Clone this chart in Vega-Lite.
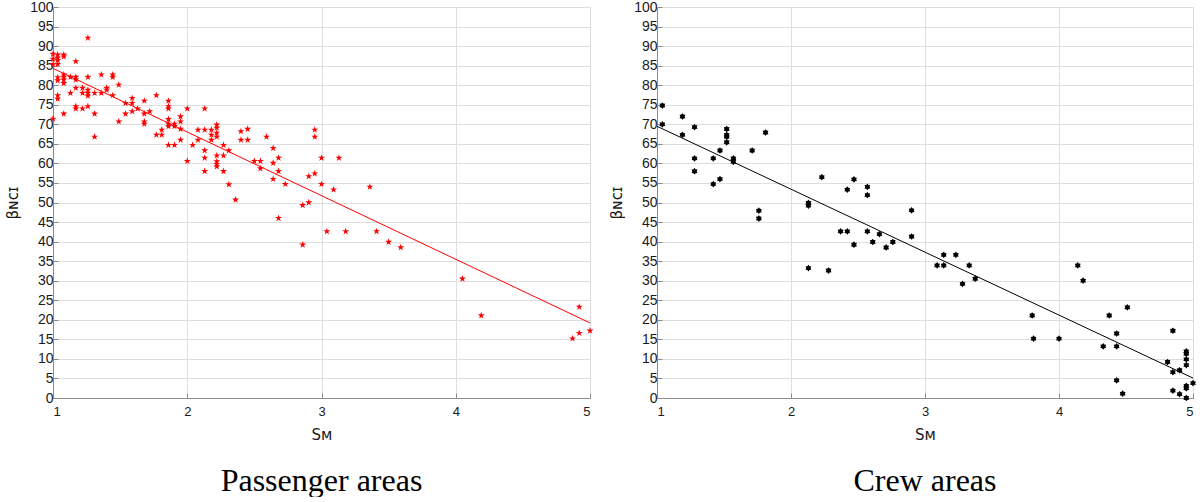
{
  "$schema": "https://vega.github.io/schema/vega-lite/v6.json",
  "padding": {"left": 5, "top": 0, "right": 0, "bottom": 0},
  "spacing": 15,
  "datasets": {
    "passenger": [
      {"sm": 1.0, "b": 71.4}, {"sm": 1.0, "b": 88}, {"sm": 1.0, "b": 86.7}, {"sm": 1.0, "b": 85.3},
      {"sm": 1.035, "b": 87.8}, {"sm": 1.035, "b": 87}, {"sm": 1.035, "b": 86.4}, {"sm": 1.035, "b": 85.4}, {"sm": 1.035, "b": 82}, {"sm": 1.035, "b": 81.2}, {"sm": 1.035, "b": 77.4}, {"sm": 1.035, "b": 76.5},
      {"sm": 1.08, "b": 87.8}, {"sm": 1.08, "b": 87.3}, {"sm": 1.08, "b": 82.7}, {"sm": 1.08, "b": 82.1}, {"sm": 1.08, "b": 81.4}, {"sm": 1.08, "b": 80.5}, {"sm": 1.08, "b": 72.7},
      {"sm": 1.13, "b": 82.1}, {"sm": 1.13, "b": 78},
      {"sm": 1.17, "b": 86.1}, {"sm": 1.17, "b": 82.1}, {"sm": 1.17, "b": 81.4}, {"sm": 1.17, "b": 79.3}, {"sm": 1.17, "b": 74.6}, {"sm": 1.17, "b": 74},
      {"sm": 1.22, "b": 79.3}, {"sm": 1.22, "b": 78}, {"sm": 1.22, "b": 74},
      {"sm": 1.26, "b": 92.1}, {"sm": 1.26, "b": 82.1}, {"sm": 1.26, "b": 78.8}, {"sm": 1.26, "b": 78}, {"sm": 1.26, "b": 77.3}, {"sm": 1.26, "b": 74.6},
      {"sm": 1.31, "b": 78}, {"sm": 1.31, "b": 72.7}, {"sm": 1.31, "b": 66.8},
      {"sm": 1.36, "b": 82.7}, {"sm": 1.36, "b": 78},
      {"sm": 1.40, "b": 79.3}, {"sm": 1.40, "b": 78.8},
      {"sm": 1.445, "b": 82.7}, {"sm": 1.445, "b": 82.1}, {"sm": 1.445, "b": 77.4},
      {"sm": 1.49, "b": 80.1}, {"sm": 1.49, "b": 70.7},
      {"sm": 1.54, "b": 75.4}, {"sm": 1.54, "b": 72.7},
      {"sm": 1.59, "b": 76.7}, {"sm": 1.59, "b": 75.4}, {"sm": 1.59, "b": 73.3},
      {"sm": 1.63, "b": 74},
      {"sm": 1.68, "b": 76}, {"sm": 1.68, "b": 72.7}, {"sm": 1.68, "b": 70.7}, {"sm": 1.68, "b": 70.1},
      {"sm": 1.72, "b": 73.3},
      {"sm": 1.77, "b": 77.4}, {"sm": 1.77, "b": 67.3},
      {"sm": 1.81, "b": 68.6}, {"sm": 1.81, "b": 67.3},
      {"sm": 1.86, "b": 76}, {"sm": 1.86, "b": 74.6}, {"sm": 1.86, "b": 74}, {"sm": 1.86, "b": 71.3}, {"sm": 1.86, "b": 70.1}, {"sm": 1.86, "b": 69.5}, {"sm": 1.86, "b": 64.7},
      {"sm": 1.905, "b": 70.1}, {"sm": 1.905, "b": 69.5}, {"sm": 1.905, "b": 64.7},
      {"sm": 1.95, "b": 72}, {"sm": 1.95, "b": 70.7}, {"sm": 1.95, "b": 68.8}, {"sm": 1.95, "b": 66},
      {"sm": 2.0, "b": 74}, {"sm": 2.0, "b": 60.6},
      {"sm": 2.04, "b": 64.7},
      {"sm": 2.08, "b": 68.6}, {"sm": 2.08, "b": 66},
      {"sm": 2.13, "b": 74}, {"sm": 2.13, "b": 68.6}, {"sm": 2.13, "b": 63.3}, {"sm": 2.13, "b": 61.4}, {"sm": 2.13, "b": 58},
      {"sm": 2.18, "b": 68.6}, {"sm": 2.18, "b": 67.3}, {"sm": 2.18, "b": 66},
      {"sm": 2.22, "b": 69.9}, {"sm": 2.22, "b": 69.1}, {"sm": 2.22, "b": 67.8}, {"sm": 2.22, "b": 66.8}, {"sm": 2.22, "b": 62}, {"sm": 2.22, "b": 60.5}, {"sm": 2.22, "b": 59.8}, {"sm": 2.22, "b": 59.2},
      {"sm": 2.27, "b": 64.7}, {"sm": 2.27, "b": 62}, {"sm": 2.27, "b": 58},
      {"sm": 2.31, "b": 63.3}, {"sm": 2.31, "b": 54.6},
      {"sm": 2.36, "b": 50.7},
      {"sm": 2.40, "b": 68.2}, {"sm": 2.40, "b": 66},
      {"sm": 2.45, "b": 68.8}, {"sm": 2.45, "b": 66},
      {"sm": 2.50, "b": 60.6},
      {"sm": 2.545, "b": 60.6}, {"sm": 2.545, "b": 58.7},
      {"sm": 2.59, "b": 66.8},
      {"sm": 2.64, "b": 63.9}, {"sm": 2.64, "b": 60.1}, {"sm": 2.64, "b": 56},
      {"sm": 2.68, "b": 61.4}, {"sm": 2.68, "b": 58}, {"sm": 2.68, "b": 46},
      {"sm": 2.73, "b": 54.7},
      {"sm": 2.86, "b": 49.3}, {"sm": 2.86, "b": 39.2},
      {"sm": 2.905, "b": 56.7}, {"sm": 2.905, "b": 50},
      {"sm": 2.95, "b": 68.6}, {"sm": 2.95, "b": 66.8}, {"sm": 2.95, "b": 57.4},
      {"sm": 3.0, "b": 61.4}, {"sm": 3.0, "b": 54.7},
      {"sm": 3.04, "b": 42.6},
      {"sm": 3.09, "b": 53.3},
      {"sm": 3.13, "b": 61.4},
      {"sm": 3.18, "b": 42.6},
      {"sm": 3.36, "b": 54},
      {"sm": 3.41, "b": 42.6},
      {"sm": 3.50, "b": 39.9},
      {"sm": 3.59, "b": 38.5},
      {"sm": 4.05, "b": 30.5},
      {"sm": 4.19, "b": 21.1},
      {"sm": 4.92, "b": 23.3}, {"sm": 4.87, "b": 15.2}, {"sm": 4.92, "b": 16.6}, {"sm": 5.0, "b": 17.2}
    ],
    "crew": [
      {"sm": 1.04, "b": 74.8}, {"sm": 1.04, "b": 70},
      {"sm": 1.19, "b": 72}, {"sm": 1.19, "b": 67.3},
      {"sm": 1.28, "b": 69.3}, {"sm": 1.28, "b": 61.3}, {"sm": 1.28, "b": 58},
      {"sm": 1.42, "b": 61.3}, {"sm": 1.42, "b": 54.7},
      {"sm": 1.47, "b": 63.3}, {"sm": 1.47, "b": 56},
      {"sm": 1.52, "b": 68.8}, {"sm": 1.52, "b": 67.3}, {"sm": 1.52, "b": 66.8}, {"sm": 1.52, "b": 65.4},
      {"sm": 1.57, "b": 61.3}, {"sm": 1.57, "b": 60.4},
      {"sm": 1.71, "b": 63.3},
      {"sm": 1.76, "b": 47.9}, {"sm": 1.76, "b": 45.9},
      {"sm": 1.81, "b": 67.9},
      {"sm": 2.13, "b": 49.9}, {"sm": 2.13, "b": 49.2}, {"sm": 2.13, "b": 33.2},
      {"sm": 2.23, "b": 56.5},
      {"sm": 2.28, "b": 32.6},
      {"sm": 2.37, "b": 42.6},
      {"sm": 2.42, "b": 53.3}, {"sm": 2.42, "b": 42.6},
      {"sm": 2.47, "b": 55.9}, {"sm": 2.47, "b": 39.2},
      {"sm": 2.57, "b": 54}, {"sm": 2.57, "b": 51.9}, {"sm": 2.57, "b": 42.6},
      {"sm": 2.61, "b": 39.9},
      {"sm": 2.66, "b": 41.9},
      {"sm": 2.71, "b": 38.5},
      {"sm": 2.76, "b": 39.9},
      {"sm": 2.90, "b": 48}, {"sm": 2.90, "b": 41.3},
      {"sm": 3.09, "b": 33.9},
      {"sm": 3.14, "b": 36.6}, {"sm": 3.14, "b": 33.9},
      {"sm": 3.23, "b": 36.6},
      {"sm": 3.28, "b": 29.2},
      {"sm": 3.33, "b": 33.9},
      {"sm": 3.375, "b": 30.5},
      {"sm": 3.80, "b": 21.1}, {"sm": 3.81, "b": 15.2},
      {"sm": 4.0, "b": 15.2},
      {"sm": 4.14, "b": 33.9},
      {"sm": 4.18, "b": 30},
      {"sm": 4.33, "b": 13.2},
      {"sm": 4.375, "b": 21.1},
      {"sm": 4.43, "b": 16.5}, {"sm": 4.43, "b": 13.2}, {"sm": 4.43, "b": 4.5},
      {"sm": 4.475, "b": 1.1},
      {"sm": 4.51, "b": 23.2},
      {"sm": 4.81, "b": 9.2},
      {"sm": 4.85, "b": 17.2}, {"sm": 4.85, "b": 6.6}, {"sm": 4.85, "b": 1.9},
      {"sm": 4.90, "b": 7.1}, {"sm": 4.90, "b": 1.0},
      {"sm": 4.95, "b": 11.9}, {"sm": 4.95, "b": 11.3}, {"sm": 4.95, "b": 9.9}, {"sm": 4.95, "b": 8.4}, {"sm": 4.95, "b": 3.1}, {"sm": 4.95, "b": 2.5}, {"sm": 4.95, "b": 0},
      {"sm": 5.0, "b": 3.8}
    ],
    "passengerFit": [
      {"sm": 1, "b": 84.3}, {"sm": 5, "b": 19.2}
    ],
    "crewFit": [
      {"sm": 1, "b": 69.5}, {"sm": 5, "b": 5.1}
    ]
  },
  "hconcat": [
    {
      "width": 537,
      "height": 391,
      "title": {"text": "Passenger areas"},
      "encoding": {
        "x": {"field": "sm", "type": "quantitative", "scale": {"domain": [1, 5], "nice": false, "zero": false},
              "axis": {"values": [1, 2, 3, 4, 5], "tickCount": 10, "title": "Sᴍ", "format": "d"}},
        "y": {"field": "b", "type": "quantitative", "scale": {"domain": [0, 100], "nice": false},
              "axis": {"values": [0, 5, 10, 15, 20, 25, 30, 35, 40, 45, 50, 55, 60, 65, 70, 75, 80, 85, 90, 95, 100], "tickCount": 30, "title": "βɴᴄɪ"}}
      },
      "layer": [
        {
          "data": {"name": "passengerFit"},
          "mark": {"type": "line", "color": "#ff0000", "strokeWidth": 1}
        },
        {
          "data": {"name": "passenger"},
          "mark": {
            "type": "point",
            "shape": "M0,-1L0.224,-0.308L0.951,-0.309L0.362,0.118L0.588,0.809L0,0.38L-0.588,0.809L-0.362,0.118L-0.951,-0.309L-0.224,-0.308Z",
            "filled": true, "color": "#ff0000", "opacity": 1, "size": 55
          }
        }
      ]
    },
    {
      "width": 536,
      "height": 391,
      "title": {"text": "Crew areas"},
      "encoding": {
        "x": {"field": "sm", "type": "quantitative", "scale": {"domain": [1, 5], "nice": false, "zero": false},
              "axis": {"values": [1, 2, 3, 4, 5], "tickCount": 10, "title": "Sᴍ", "format": "d"}},
        "y": {"field": "b", "type": "quantitative", "scale": {"domain": [0, 100], "nice": false},
              "axis": {"values": [0, 5, 10, 15, 20, 25, 30, 35, 40, 45, 50, 55, 60, 65, 70, 75, 80, 85, 90, 95, 100], "tickCount": 30, "title": "βɴᴄɪ"}}
      },
      "layer": [
        {
          "data": {"name": "crewFit"},
          "mark": {"type": "line", "color": "#000000", "strokeWidth": 1}
        },
        {
          "data": {"name": "crew"},
          "mark": {
            "type": "point",
            "shape": "M0,-1L0.33,-0.57L0.866,-0.5L0.66,0L0.866,0.5L0.33,0.57L0,1L-0.33,0.57L-0.866,0.5L-0.66,0L-0.866,-0.5L-0.33,-0.57Z",
            "filled": true, "color": "#000000", "opacity": 1, "size": 45
          }
        }
      ]
    }
  ],
  "config": {
    "view": {"stroke": null},
    "axis": {
      "labelFont": "Liberation Sans",
      "labelFontSize": 13,
      "labelColor": "#1a1a1a",
      "labelOverlap": false,
      "titleFont": "DejaVu Sans",
      "titleFontSize": 15,
      "titleFontWeight": "normal",
      "titleColor": "#1a1a1a",
      "domainColor": "#8a8a8a",
      "tickColor": "#8a8a8a",
      "tickSize": -5,
      "gridColor": "#dedede",
      "grid": true
    },
    "axisX": {"labelPadding": 12, "titlePadding": 9},
    "axisY": {"labelPadding": 5, "titlePadding": 9, "labelFontSize": 14},
    "title": {
      "font": "Liberation Serif",
      "fontSize": 32,
      "fontWeight": "normal",
      "color": "#000000",
      "orient": "bottom",
      "anchor": "middle",
      "offset": 24
    }
  }
}
